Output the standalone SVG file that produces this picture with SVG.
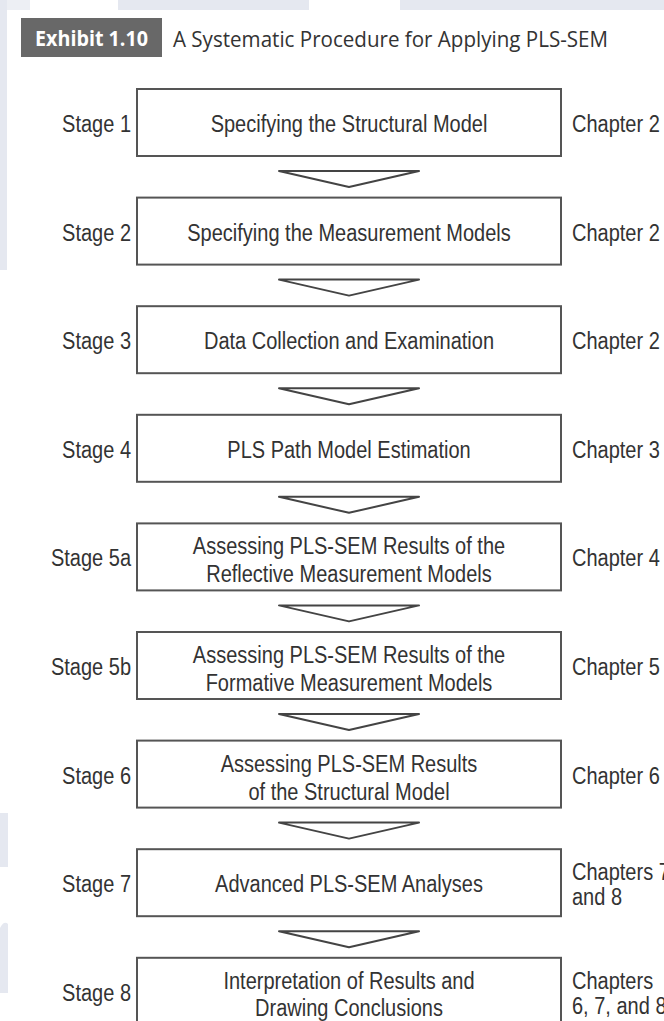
<svg xmlns="http://www.w3.org/2000/svg" width="664" height="1021" viewBox="0 0 664 1021">
<defs>
<style>
.bg{fill:#e5e8f0}
.box{fill:#fff;stroke:#555;stroke-width:2}
.chev{fill:none;stroke:#444;stroke-width:2;stroke-linejoin:round}
.t{font-family:"Liberation Sans",Arial,sans-serif;font-size:20px;fill:#333}
.c{text-anchor:middle}
.r{text-anchor:end}
</style>
</defs>
<rect width="664" height="1021" fill="#fff"/>
<g id="background">
<rect class="bg" x="0" y="0" width="30" height="10" fill-opacity="0.7"/>
<rect class="bg" x="118" y="0" width="191" height="10"/>
<rect class="bg" x="400" y="0" width="264" height="10"/>
<rect class="bg" x="0" y="0" width="7" height="270"/>
<rect class="bg" x="0" y="813" width="8" height="54"/>
<path class="bg" d="M0 993 V928 Q4 920 8 924 V993 Z"/>
</g>
<g id="title">
<rect x="21" y="18" width="141" height="39" fill="#686868"/>
<text x="35" y="46" font-family="'Open Sans','Liberation Sans',sans-serif" font-weight="bold" font-size="22" fill="#fff" textLength="113" lengthAdjust="spacingAndGlyphs">Exhibit 1.10</text>
<text x="173" y="47" font-family="'Open Sans','Liberation Sans',sans-serif" font-size="22" fill="#333" textLength="435" lengthAdjust="spacingAndGlyphs">A Systematic Procedure for Applying PLS-SEM</text>
</g>
<g id="connectors">
<path class="chev" d="M279 171 H419 L349 187 Z"/>
<path class="chev" d="M279 279.6 H419 L349 295.6 Z"/>
<path class="chev" d="M279 388.2 H419 L349 404.2 Z"/>
<path class="chev" d="M279 496.8 H419 L349 512.8 Z"/>
<path class="chev" d="M279 605.4 H419 L349 621.4 Z"/>
<path class="chev" d="M279 714 H419 L349 730 Z"/>
<path class="chev" d="M279 822.6 H419 L349 838.6 Z"/>
<path class="chev" d="M279 931.2 H419 L349 947.2 Z"/>
</g>
<g id="stage1">
<rect class="box" x="137" y="89" width="424" height="67"/>
<text class="t r" transform="translate(131,132) scale(1,1.15)">Stage 1</text>
<text class="t c" transform="translate(349,132) scale(1,1.15)">Specifying the Structural Model</text>
<text class="t" transform="translate(572,132) scale(1,1.15)">Chapter 2</text>
</g>
<g id="stage2">
<rect class="box" x="137" y="197.6" width="424" height="67"/>
<text class="t r" transform="translate(131,240.6) scale(1,1.15)">Stage 2</text>
<text class="t c" transform="translate(349,240.6) scale(1,1.15)">Specifying the Measurement Models</text>
<text class="t" transform="translate(572,240.6) scale(1,1.15)">Chapter 2</text>
</g>
<g id="stage3">
<rect class="box" x="137" y="306.2" width="424" height="67"/>
<text class="t r" transform="translate(131,349.2) scale(1,1.15)">Stage 3</text>
<text class="t c" transform="translate(349,349.2) scale(1,1.15)">Data Collection and Examination</text>
<text class="t" transform="translate(572,349.2) scale(1,1.15)">Chapter 2</text>
</g>
<g id="stage4">
<rect class="box" x="137" y="414.8" width="424" height="67"/>
<text class="t r" transform="translate(131,457.8) scale(1,1.15)">Stage 4</text>
<text class="t c" transform="translate(349,457.8) scale(1,1.15)">PLS Path Model Estimation</text>
<text class="t" transform="translate(572,457.8) scale(1,1.15)">Chapter 3</text>
</g>
<g id="stage5a">
<rect class="box" x="137" y="523.4" width="424" height="67"/>
<text class="t r" transform="translate(131,566.4) scale(1,1.15)">Stage 5a</text>
<text class="t c" transform="translate(349,554.4) scale(1,1.15)">Assessing PLS-SEM Results of the</text>
<text class="t c" transform="translate(349,582.4) scale(1,1.15)">Reflective Measurement Models</text>
<text class="t" transform="translate(572,566.4) scale(1,1.15)">Chapter 4</text>
</g>
<g id="stage5b">
<rect class="box" x="137" y="632" width="424" height="67"/>
<text class="t r" transform="translate(131,675) scale(1,1.15)">Stage 5b</text>
<text class="t c" transform="translate(349,663) scale(1,1.15)">Assessing PLS-SEM Results of the</text>
<text class="t c" transform="translate(349,691) scale(1,1.15)">Formative Measurement Models</text>
<text class="t" transform="translate(572,675) scale(1,1.15)">Chapter 5</text>
</g>
<g id="stage6">
<rect class="box" x="137" y="740.6" width="424" height="67"/>
<text class="t r" transform="translate(131,783.6) scale(1,1.15)">Stage 6</text>
<text class="t c" transform="translate(349,771.6) scale(1,1.15)">Assessing PLS-SEM Results</text>
<text class="t c" transform="translate(349,799.6) scale(1,1.15)">of the Structural Model</text>
<text class="t" transform="translate(572,783.6) scale(1,1.15)">Chapter 6</text>
</g>
<g id="stage7">
<rect class="box" x="137" y="849.2" width="424" height="67"/>
<text class="t r" transform="translate(131,892.2) scale(1,1.15)">Stage 7</text>
<text class="t c" transform="translate(349,892.2) scale(1,1.15)">Advanced PLS-SEM Analyses</text>
<text class="t" transform="translate(572,880.2) scale(1,1.15)">Chapters 7</text>
<text class="t" transform="translate(572,905.2) scale(1,1.15)">and 8</text>
</g>
<g id="stage8">
<rect class="box" x="137" y="957.8" width="424" height="80"/>
<text class="t r" transform="translate(131,1000.8) scale(1,1.15)">Stage 8</text>
<text class="t c" transform="translate(349,988.8) scale(1,1.15)">Interpretation of Results and</text>
<text class="t c" transform="translate(349,1015.8) scale(1,1.15)">Drawing Conclusions</text>
<text class="t" transform="translate(572,988.8) scale(1,1.15)">Chapters</text>
<text class="t" transform="translate(572,1013.8) scale(1,1.15)">6, 7, and 8</text>
</g>
</svg>
